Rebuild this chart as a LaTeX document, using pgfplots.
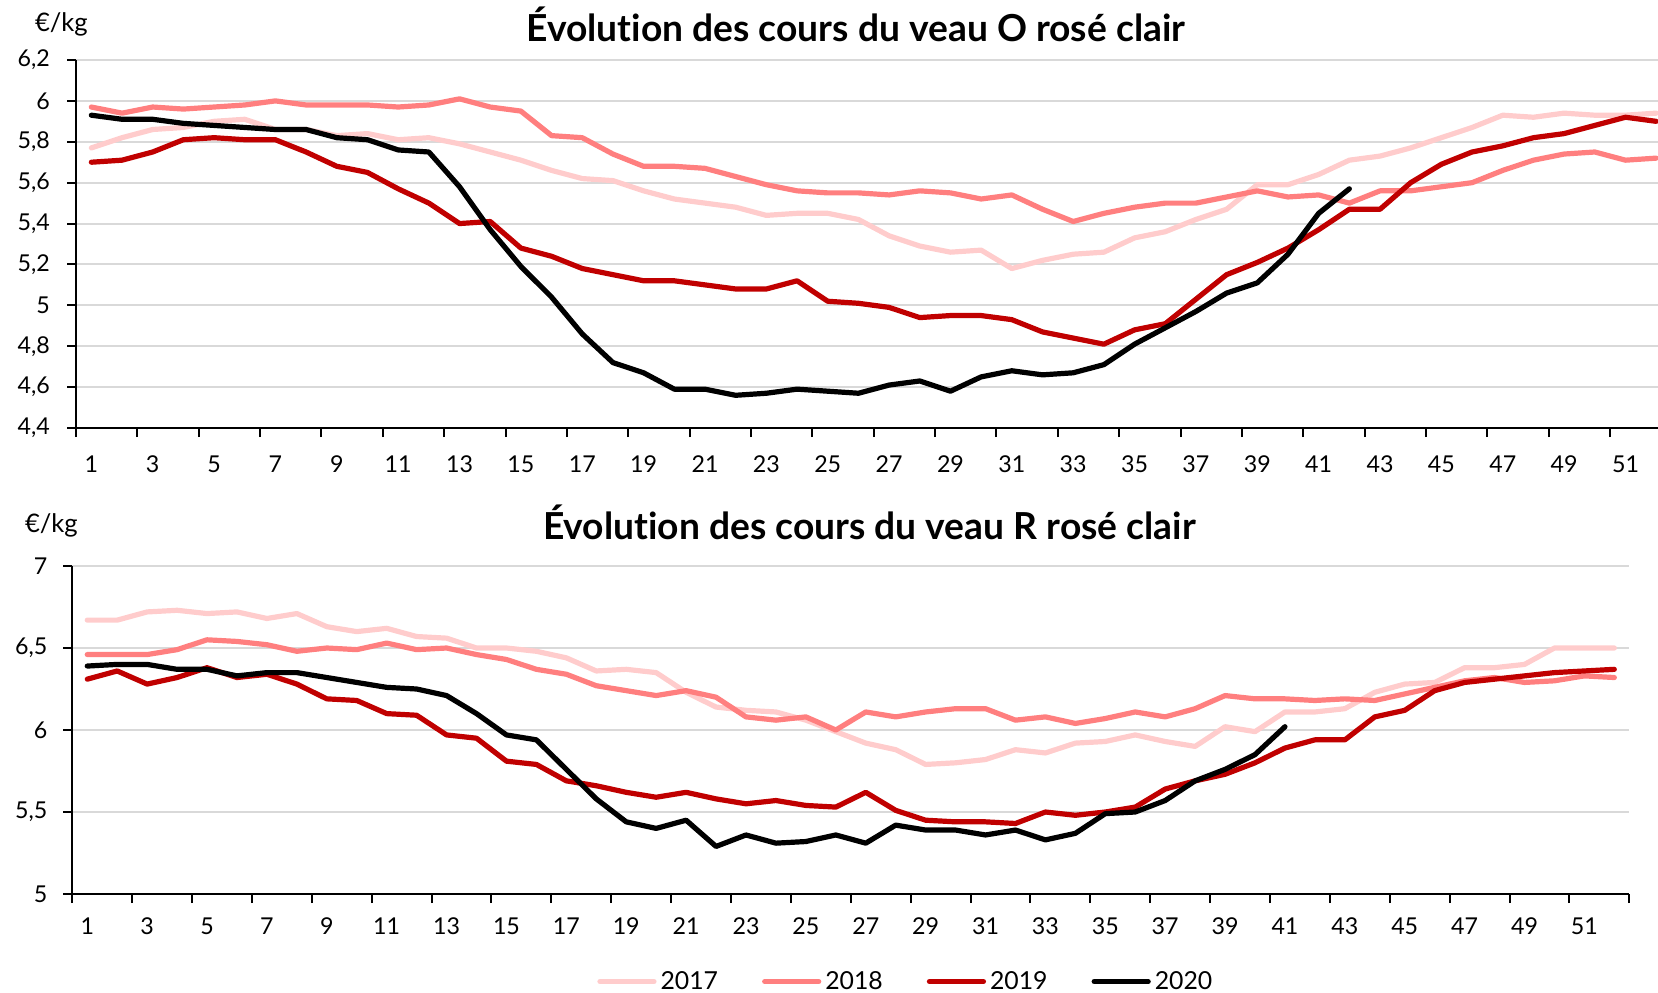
\documentclass[border=0pt]{standalone}
\usepackage{fontspec}
\setmainfont{Lato}[Ligatures=NoCommon]
\usepackage{pgfplots}
\pgfplotsset{compat=1.18}
\usepackage{pgfplotstable}

\definecolor{c17}{HTML}{FFCCCC}
\definecolor{c18}{HTML}{FF7F7F}
\definecolor{c19}{HTML}{C00000}
\definecolor{c20}{HTML}{000000}
\definecolor{gridc}{HTML}{D9D9D9}

% Veau O rose clair
\pgfplotstableread{
w a b c d
1 5.77 5.97 5.70 5.93
2 5.82 5.94 5.71 5.91
3 5.86 5.97 5.75 5.91
4 5.87 5.96 5.81 5.89
5 5.90 5.97 5.82 5.88
6 5.91 5.98 5.81 5.87
7 5.86 6.00 5.81 5.86
8 5.86 5.98 5.75 5.86
9 5.83 5.98 5.68 5.82
10 5.84 5.98 5.65 5.81
11 5.81 5.97 5.57 5.76
12 5.82 5.98 5.50 5.75
13 5.79 6.01 5.40 5.58
14 5.75 5.97 5.41 5.37
15 5.71 5.95 5.28 5.19
16 5.66 5.83 5.24 5.04
17 5.62 5.82 5.18 4.86
18 5.61 5.74 5.15 4.72
19 5.56 5.68 5.12 4.67
20 5.52 5.68 5.12 4.59
21 5.50 5.67 5.10 4.59
22 5.48 5.63 5.08 4.56
23 5.44 5.59 5.08 4.57
24 5.45 5.56 5.12 4.59
25 5.45 5.55 5.02 4.58
26 5.42 5.55 5.01 4.57
27 5.34 5.54 4.99 4.61
28 5.29 5.56 4.94 4.63
29 5.26 5.55 4.95 4.58
30 5.27 5.52 4.95 4.65
31 5.18 5.54 4.93 4.68
32 5.22 5.47 4.87 4.66
33 5.25 5.41 4.84 4.67
34 5.26 5.45 4.81 4.71
35 5.33 5.48 4.88 4.81
36 5.36 5.50 4.91 4.89
37 5.42 5.50 5.03 4.97
38 5.47 5.53 5.15 5.06
39 5.59 5.56 5.21 5.11
40 5.59 5.53 5.28 5.25
41 5.64 5.54 5.37 5.45
42 5.71 5.50 5.47 5.57
43 5.73 5.56 5.47 nan
44 5.77 5.56 5.60 nan
45 5.82 5.58 5.69 nan
46 5.87 5.60 5.75 nan
47 5.93 5.66 5.78 nan
48 5.92 5.71 5.82 nan
49 5.94 5.74 5.84 nan
50 5.93 5.75 5.88 nan
51 5.93 5.71 5.92 nan
52 5.94 5.72 5.90 nan
}\topdata

% Veau R rose clair
\pgfplotstableread{
w a b c d
1 6.67 6.46 6.31 6.39
2 6.67 6.46 6.36 6.40
3 6.72 6.46 6.28 6.40
4 6.73 6.49 6.32 6.37
5 6.71 6.55 6.38 6.37
6 6.72 6.54 6.32 6.33
7 6.68 6.52 6.34 6.35
8 6.71 6.48 6.28 6.35
9 6.63 6.50 6.19 6.32
10 6.60 6.49 6.18 6.29
11 6.62 6.53 6.10 6.26
12 6.57 6.49 6.09 6.25
13 6.56 6.50 5.97 6.21
14 6.50 6.46 5.95 6.10
15 6.50 6.43 5.81 5.97
16 6.48 6.37 5.79 5.94
17 6.44 6.34 5.69 5.76
18 6.36 6.27 5.66 5.58
19 6.37 6.24 5.62 5.44
20 6.35 6.21 5.59 5.40
21 6.23 6.24 5.62 5.45
22 6.14 6.20 5.58 5.29
23 6.12 6.08 5.55 5.36
24 6.11 6.06 5.57 5.31
25 6.06 6.08 5.54 5.32
26 5.99 6.00 5.53 5.36
27 5.92 6.11 5.62 5.31
28 5.88 6.08 5.51 5.42
29 5.79 6.11 5.45 5.39
30 5.80 6.13 5.44 5.39
31 5.82 6.13 5.44 5.36
32 5.88 6.06 5.43 5.39
33 5.86 6.08 5.50 5.33
34 5.92 6.04 5.48 5.37
35 5.93 6.07 5.50 5.49
36 5.97 6.11 5.53 5.50
37 5.93 6.08 5.64 5.57
38 5.90 6.13 5.69 5.69
39 6.02 6.21 5.73 5.76
40 5.99 6.19 5.80 5.85
41 6.11 6.19 5.89 6.02
42 6.11 6.18 5.94 nan
43 6.13 6.19 5.94 nan
44 6.23 6.18 6.08 nan
45 6.28 6.22 6.12 nan
46 6.29 6.26 6.24 nan
47 6.38 6.30 6.29 nan
48 6.38 6.32 6.31 nan
49 6.40 6.29 6.33 nan
50 6.50 6.30 6.35 nan
51 6.50 6.33 6.36 nan
52 6.50 6.32 6.37 nan
}\botdata

\pgfplotsset{
  mychart/.style={
    scale only axis,
    axis x line*=bottom,
    axis y line*=left,
    axis line style={black, line width=1pt},
    every tick/.style={black, line width=1pt},
    tick align=outside,
    major tick length=0pt,
    minor tick length=4.5pt,
    xtick={1,3,...,51},
    minor xtick={0.5,2.5,...,52.5},
    ymajorgrids,
    major grid style={gridc, line width=1pt},
    minor grid style={draw=none},
    tick label style={font=\fontsize{11.6}{13}\selectfont},
    /pgf/number format/.cd, use comma, 1000 sep={}, assume math mode=true,
    /pgfplots/.cd,
    scaled ticks=false,
    title style={font=\fontsize{18.6}{21}\selectfont\bfseries, anchor=base},
    unbounded coords=discard,
  },
  s17/.style={c17, line width=2.6pt, line cap=round, line join=round},
  s18/.style={c18, line width=2.6pt, line cap=round, line join=round},
  s19/.style={c19, line width=2.6pt, line cap=round, line join=round},
  s20/.style={c20, line width=2.6pt, line cap=round, line join=round},
}

\begin{document}
\begin{tikzpicture}
% ---------- top chart ----------
\begin{axis}[
  mychart,
  at={(38pt,282pt)}, anchor=south west,
  width=791pt, height=184pt,
  xmin=0.5, xmax=52.06, ymin=4.4, ymax=6.2,
  ytick={4.4,4.6,4.8,5,5.2,5.4,5.6,5.8,6,6.2},
  minor ytick={4.4,4.6,4.8,5,5.2,5.4,5.6,5.8,6,6.2},
  xticklabel style={yshift=-10.2pt},
  yticklabel style={xshift=-9.6pt},
  title={Évolution des cours du veau O rosé clair},
  title style={at={(0.493,1)}, yshift=3.4pt},
]
\addplot[s17] table[x=w,y=a]{\topdata};
\addplot[s18] table[x=w,y=b]{\topdata};
\addplot[s19] table[x=w,y=c]{\topdata};
\addplot[s20] table[x=w,y=d]{\topdata};
\end{axis}

% ---------- bottom chart ----------
\begin{axis}[
  mychart,
  at={(36.15pt,49pt)}, anchor=south west,
  width=778.5pt, height=164pt,
  xmin=0.5, xmax=52.5, ymin=5, ymax=7,
  ytick={5,5.5,6,6.5,7},
  minor ytick={5,5.5,6,6.5,7},
  xticklabel style={yshift=-8.2pt},
  yticklabel style={xshift=-9pt},
  title={Évolution des cours du veau R rosé clair},
  title style={at={(0.512,1)}, yshift=7.4pt},
  legend columns=4,
  legend style={draw=none, fill=none, at={(0.536,-0.267)}, anchor=center,
    font=\fontsize{12.4}{14}\selectfont,
    /tikz/every even column/.append style={column sep=20pt}},
  legend image code/.code={\draw[#1] (0pt,0pt) -- (27pt,0pt);},
]
\addplot[s17] table[x=w,y=a]{\botdata};
\addlegendentry{2017}
\addplot[s18] table[x=w,y=b]{\botdata};
\addlegendentry{2018}
\addplot[s19] table[x=w,y=c]{\botdata};
\addlegendentry{2019}
\addplot[s20] table[x=w,y=d]{\botdata};
\addlegendentry{2020}
\end{axis}

\node[anchor=base west, font=\fontsize{12.8}{14}\selectfont] at (14pt,480pt) {€/kg};
\node[anchor=base west, font=\fontsize{12.8}{14}\selectfont] at (9pt,230pt) {€/kg};

\pgfresetboundingbox
\path[use as bounding box] (0pt,0pt) rectangle (829pt,496pt);
\end{tikzpicture}
\end{document}
